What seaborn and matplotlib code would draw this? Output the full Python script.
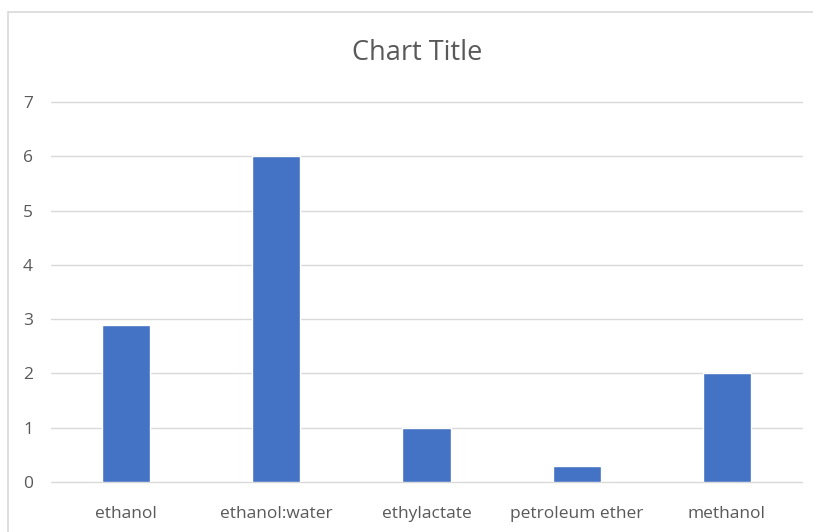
import matplotlib
matplotlib.use("Agg")
import matplotlib.pyplot as plt
import seaborn as sns
import pandas as pd
from matplotlib.patches import Rectangle

solvents = ["ethanol", "ethanol:water", "ethylactate", "petroleum ether", "methanol"]
values = [2.9, 6, 1, 0.3, 2]
y_ticks = [0, 1, 2, 3, 4, 5, 6, 7]

sns.set_theme(style="white")
plt.rcParams["font.family"] = ["Open Sans", "DejaVu Sans"]

df = pd.DataFrame({"solvent": solvents, "value": values})

fig = plt.figure(figsize=(8.13, 5.32), dpi=100)
ax = fig.add_axes([51 / 813, 50 / 532, 751 / 813, 380 / 532])

# chart area outline
fig.patches.append(Rectangle((8 / 813, -0.1), 1.2, 1 - 12 / 532 + 0.1,
                             transform=fig.transFigure, fill=False,
                             edgecolor="#d9d9d9", linewidth=1.2, zorder=0))

sns.barplot(data=df, x="solvent", y="value", color="#4472C4", width=0.32,
            saturation=1, ax=ax, zorder=3)

ax.set_ylim(0, 7)
ax.set_yticks(y_ticks)
ax.yaxis.grid(True, color="#d9d9d9", linewidth=1)
for line in ax.get_ygridlines():
    line.set_clip_on(False)
ax.set_axisbelow(True)
for s in ax.spines.values():
    s.set_visible(False)
ax.set_xlabel("")
ax.set_ylabel("")
ax.tick_params(axis="y", length=0, pad=13, labelsize=12.5, labelcolor="#595959")
ax.tick_params(axis="x", length=0, pad=17, labelsize=12.5, labelcolor="#595959")

fig.text(0.513, 1 - 53 / 532, "Chart Title", ha="center", va="center",
         fontsize=19.5, color="#595959")

fig.savefig("out.png", dpi=100, facecolor="white")
